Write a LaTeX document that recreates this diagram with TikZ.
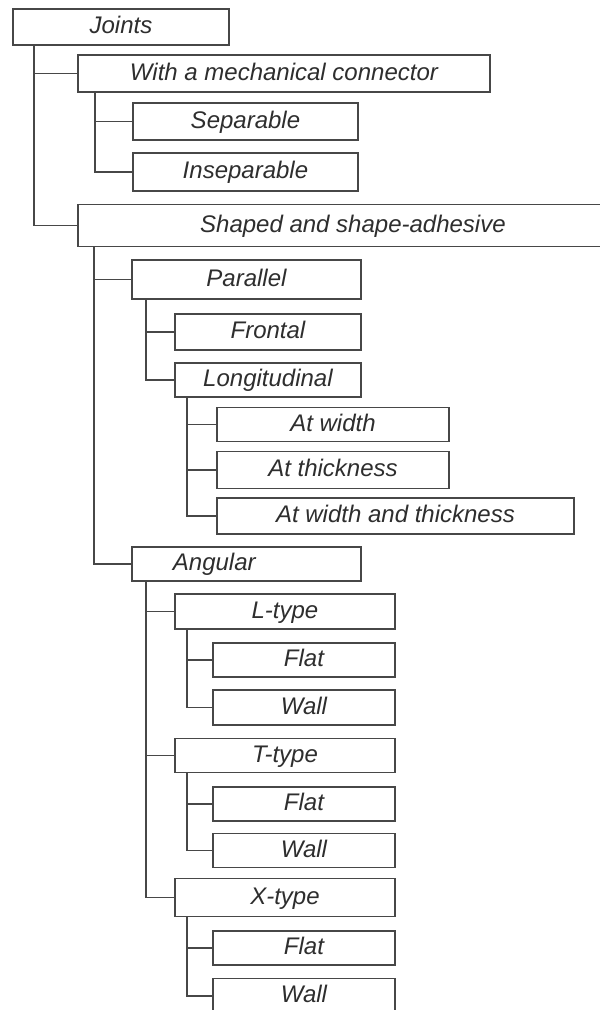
\documentclass[tikz,border=0pt]{standalone}
\usepackage{fontspec}
\setmainfont{Liberation Sans}
\begin{document}
\begin{tikzpicture}[x=1pt, y=-1pt,
    box/.style={draw=black!72, line width=1.9pt, anchor=west, inner sep=0pt,
      minimum height=35pt, text height=18pt, text depth=5pt,
      font=\itshape\fontsize{24}{28}\selectfont, text=black!82},
    branch/.style={draw=black!72, line width=1.9pt}]
    \clip (0,0) rectangle (600,1010);
    \fill[white] (0,0) rectangle (600,1010);

    % Root and first level
    \node[box, minimum width=216pt, minimum height=36pt] (joints) at (12,27) {Joints};
    \node[box, minimum width=412pt, minimum height=37pt] (mech) at (77,73.5) {With a mechanical connector};
    \node[box, minimum width=550pt, minimum height=42pt] (shaped) at (77,225.5) {Shaped and shape-adhesive};

    % Mechanical connector
    \node[box, minimum width=225pt, minimum height=37pt] (sep) at (132,121.5) {Separable};
    \node[box, minimum width=225pt, minimum height=38pt] (insep) at (132,172) {Inseparable};

    % Parallel joints
    \node[box, minimum width=229pt, minimum height=39pt] (parallel) at (131,279.5) {Parallel};
    \node[box, minimum width=186pt, minimum height=36pt] (frontal) at (174,332) {Frontal};
    \node[box, minimum width=186pt, minimum height=34pt] (longit) at (174,380) {Longitudinal};
    \node[box, minimum width=232pt, minimum height=34pt] (atw) at (216,424.5) {At width};
    \node[box, minimum width=232pt, minimum height=37pt] (atth) at (216,470) {At thickness};
    \node[box, minimum width=357pt, minimum height=36pt] (atwth) at (216,516) {At width and thickness};

    % Angular joints
    \node[box, minimum width=229pt, minimum height=34pt, text width=147pt, align=left, inner xsep=41pt] (angular) at (131,564) {Angular};
    \node[box, minimum width=220pt] (ltype) at (174,611.5) {L-type};
    \node[box, minimum width=182pt, minimum height=34pt] (lflat) at (212,660) {Flat};
    \node[box, minimum width=182pt] (lwall) at (212,707.5) {Wall};
    \node[box, minimum width=220pt, minimum height=34pt] (ttype) at (174,755.5) {T-type};
    \node[box, minimum width=182pt, minimum height=34pt] (tflat) at (212,804) {Flat};
    \node[box, minimum width=182pt, minimum height=34pt] (twall) at (212,850.5) {Wall};
    \node[box, minimum width=220pt, minimum height=38pt] (xtype) at (174,897.5) {X-type};
    \node[box, minimum width=182pt, minimum height=34pt] (xflat) at (212,948) {Flat};
    \node[box, minimum width=182pt] (xwall) at (212,996) {Wall};

    % Tree lines
    \draw[branch] ([xshift=22pt]joints.south west) |- (mech.west);
    \draw[branch] ([xshift=22pt]joints.south west) |- (shaped.west);

    \draw[branch] ([xshift=18pt]mech.south west) |- (sep.west);
    \draw[branch] ([xshift=18pt]mech.south west) |- (insep.west);

    \draw[branch] ([xshift=17pt]shaped.south west) |- (parallel.west);
    \draw[branch] ([xshift=17pt]shaped.south west) |- (angular.west);

    \draw[branch] ([xshift=15pt]parallel.south west) |- (frontal.west);
    \draw[branch] ([xshift=15pt]parallel.south west) |- (longit.west);

    \draw[branch] ([xshift=13pt]longit.south west) |- (atw.west);
    \draw[branch] ([xshift=13pt]longit.south west) |- (atth.west);
    \draw[branch] ([xshift=13pt]longit.south west) |- (atwth.west);

    \draw[branch] ([xshift=15pt]angular.south west) |- (ltype.west);
    \draw[branch] ([xshift=15pt]angular.south west) |- (ttype.west);
    \draw[branch] ([xshift=15pt]angular.south west) |- (xtype.west);

    \draw[branch] ([xshift=13pt]ltype.south west) |- (lflat.west);
    \draw[branch] ([xshift=13pt]ltype.south west) |- (lwall.west);
    \draw[branch] ([xshift=13pt]ttype.south west) |- (tflat.west);
    \draw[branch] ([xshift=13pt]ttype.south west) |- (twall.west);
    \draw[branch] ([xshift=13pt]xtype.south west) |- (xflat.west);
    \draw[branch] ([xshift=13pt]xtype.south west) |- (xwall.west);
\end{tikzpicture}
\end{document}
